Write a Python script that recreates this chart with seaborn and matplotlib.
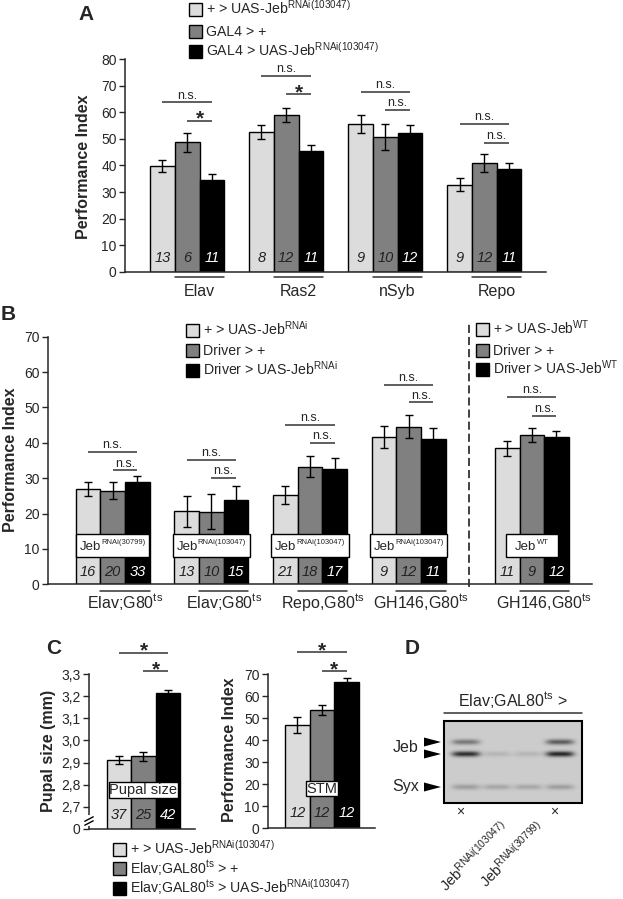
import numpy as np
import pandas as pd
import matplotlib
matplotlib.use('Agg')
import matplotlib.pyplot as plt
from matplotlib.patches import Rectangle
import seaborn as sns

# ---- values ----
genotypes = ['uas', 'driver', 'kd']
bar_colors = ['#dcdcdc', '#808080', '#000000']

# A: GAL4 lines, performance index
a_groups = ['Elav', 'Ras2', 'nSyb', 'Repo']
a_uas = [39.8, 52.6, 55.5, 32.8]
a_uas_err = [2.1, 2.5, 3.4, 2.4]
a_driver = [48.7, 59.0, 50.9, 41.1]
a_driver_err = [3.6, 2.5, 4.9, 3.4]
a_kd = [34.4, 45.3, 52.1, 38.7]
a_kd_err = [2.5, 2.4, 3.0, 2.4]
a_n = [[13, 8, 9, 9], [6, 12, 10, 12], [11, 11, 12, 11]]
a_sig_long = ['n.s.', 'n.s.', 'n.s.', 'n.s.']
a_sig_short = ['*', '*', 'n.s.', 'n.s.']
a_sig_long_y = [63.8, 73.8, 67.8, 55.6]
a_sig_short_y = [56.9, 66.8, 60.9, 48.6]
a_legend = ['+ > UAS-Jeb$^{RNAi(103047)}$', 'GAL4 > +',
            'GAL4 > UAS-Jeb$^{RNAi(103047)}$']

# B: adult-specific knockdown / overexpression
b_pos = [0, 1, 2, 3, 4.25]
b_labels = ['Elav;G80$^{ts}$', 'Elav;G80$^{ts}$', 'Repo,G80$^{ts}$',
            'GH146,G80$^{ts}$', 'GH146,G80$^{ts}$']
b_uas = [26.9, 20.7, 25.2, 41.6, 38.4]
b_uas_err = [1.9, 4.4, 2.6, 3.2, 2.2]
b_driver = [26.5, 20.5, 33.3, 44.6, 42.1]
b_driver_err = [2.3, 5.0, 3.0, 3.3, 2.0]
b_kd = [29.0, 23.7, 32.6, 41.1, 41.7]
b_kd_err = [1.6, 4.2, 3.0, 3.0, 1.5]
b_n = [[16, 13, 21, 9, 11], [20, 10, 18, 12, 9], [33, 15, 17, 11, 12]]
b_box_sup = ['RNAi(30799)', 'RNAi(103047)', 'RNAi(103047)', 'RNAi(103047)', 'WT']
b_sig_long_y = [37.4, 35.2, 45.1, 56.4, 52.9]
b_sig_short_y = [32.2, 30.0, 39.9, 51.4, 47.7]
b_legend_rnai = ['+ > UAS-Jeb$^{RNAi}$', 'Driver > +', 'Driver > UAS-Jeb$^{RNAi}$']
b_legend_wt = ['+ > UAS-Jeb$^{WT}$', 'Driver > +', 'Driver > UAS-Jeb$^{WT}$']

# C: pupal size and STM
c_size = [2.912, 2.928, 3.213]
c_size_err = [0.019, 0.022, 0.015]
c_size_n = [37, 25, 42]
c_stm = [47.0, 53.8, 66.4]
c_stm_err = [3.6, 2.3, 1.8]
c_stm_n = [12, 12, 12]
c_legend = ['+ > UAS-Jeb$^{RNAi(103047)}$', 'Elav;GAL80$^{ts}$ > +',
            'Elav;GAL80$^{ts}$ > UAS-Jeb$^{RNAi(103047)}$']

# D: western blot, band darkness per lane (upper Jeb, lower Jeb, Syx)
lane_x = [466, 497, 528, 560]
band_y = [742, 754, 787]
band_dark = [[0.45, 0.85, 0.25], [0.0, 0.12, 0.2], [0.0, 0.12, 0.2], [0.6, 0.9, 0.25]]
lane_names = ['Jeb$^{RNAi(103047)}$', 'Jeb$^{RNAi(30799)}$']

# ---- style ----
sns.set_style('ticks')
plt.rcParams['font.family'] = ['Liberation Sans', 'DejaVu Sans']
plt.rcParams['mathtext.fontset'] = 'custom'
plt.rcParams['mathtext.rm'] = 'Liberation Sans'
plt.rcParams['mathtext.it'] = 'Liberation Sans:italic'
plt.rcParams['mathtext.bf'] = 'Liberation Sans:bold'
plt.rcParams['mathtext.default'] = 'regular'

W, H = 623, 899
fig = plt.figure(figsize=(W / 100, H / 100), dpi=100)
renderer = fig.canvas.get_renderer()
offsets = [-0.25, 0, 0.25]
line_col = '#333333'


def px_axes(x0, y0, x1, y1):
    return fig.add_axes([x0 / W, 1 - y1 / H, (x1 - x0) / W, (y1 - y0) / H])


def text_width(s, fs):
    t = fig.text(0, 0, s, fontsize=fs)
    w = t.get_window_extent(renderer=renderer).width
    t.remove()
    return w


def bar_table(groups, series):
    rows = []
    for g_name, vals in zip(genotypes, series):
        for grp, v in zip(groups, vals):
            rows.append({'group': grp, 'genotype': g_name, 'value': v})
    return pd.DataFrame(rows)


def draw_bars(ax, table, native=False):
    sns.barplot(data=table, x='group', y='value', hue='genotype', hue_order=genotypes,
                palette=dict(zip(genotypes, bar_colors)), saturation=1, width=0.75, gap=0,
                errorbar=None, edgecolor='black', linewidth=1, legend=False,
                native_scale=native, ax=ax)
    sns.despine(ax=ax)
    ax.set_xlabel('')
    ax.set_ylabel('')
    ax.set_xticks([])
    ax.tick_params(axis='y', length=4, width=1, labelsize=10, pad=2)
    for s in ['left', 'bottom']:
        ax.spines[s].set_linewidth(1.1)


def draw_err(ax, pos, vals, errs):
    for off, v, e in zip(offsets, vals, errs):
        ax.errorbar(np.asarray(pos, float) + off, v, yerr=e, fmt='none', ecolor='black',
                    elinewidth=1, capsize=2.8, capthick=1, zorder=4)


def draw_n(ax, pos, counts, y):
    for off, cnt, col in zip(offsets, counts, ['#222222', '#222222', 'white']):
        for p, c in zip(pos, cnt):
            ax.text(p + off, y, str(c), ha='center', va='center', fontsize=10.5,
                    style='italic', color=col, zorder=5)


def sig_line(ax, x0, x1, y, label):
    ax.plot([x0, x1], [y, y], color=line_col, lw=1.1, clip_on=False, solid_capstyle='butt')
    if label == '*':
        ax.annotate('*', ((x0 + x1) / 2, y), xytext=(0, -2.8), textcoords='offset points',
                    ha='center', va='baseline', fontsize=15, fontweight='bold',
                    annotation_clip=False)
    else:
        ax.annotate(label, ((x0 + x1) / 2, y), xytext=(0, 2.7), textcoords='offset points',
                    ha='center', va='baseline', fontsize=9, annotation_clip=False)


def group_labels(ax, pos, labels, y_line, y_text):
    for p, lab in zip(pos, labels):
        ax.plot([p - 0.125, p + 0.375], [y_line, y_line], color=line_col, lw=1.1,
                clip_on=False)
        ax.text(p + 0.125, y_text, lab, ha='center', va='baseline', fontsize=11.5)


def box_label(ax, x, y0, y1, w, text, fs=10.5):
    ax.add_patch(Rectangle((x - w / 2, y0), w, y1 - y0, facecolor='white',
                           edgecolor='black', lw=1, zorder=6))
    ax.text(x, (y0 + y1) / 2, text, ha='center', va='center', fontsize=fs, zorder=7)


def sup_box(ax, x, y0, y1, base, sup, fs=9.5, sup_fs=5.5, pad=4, min_w=52):
    # white box with "Jeb" and a small superscript, sized to the text
    w1 = text_width(base, fs)
    w2 = text_width(sup, sup_fs)
    px_per_unit = ax.transData.transform((1, 0))[0] - ax.transData.transform((0, 0))[0]
    w = max(w1 + w2 + 2 * pad, min_w) / px_per_unit
    ax.add_patch(Rectangle((x - w / 2, y0), w, y1 - y0, facecolor='white',
                           edgecolor='black', lw=1, zorder=6))
    start = -(w1 + w2) / 2 * 0.72
    base_off = -0.358 * fs
    ax.annotate(base, (x, (y0 + y1) / 2), xytext=(start, base_off), textcoords='offset points',
                ha='left', va='baseline', fontsize=fs, zorder=7)
    ax.annotate(sup, (x, (y0 + y1) / 2), xytext=(start + w1 * 0.72, base_off + 0.45 * fs),
                textcoords='offset points', ha='left', va='baseline', fontsize=sup_fs, zorder=7)


# ---- panel A ----
ax_a = px_axes(125, 59.3, 546, 271.7)
draw_bars(ax_a, bar_table(a_groups, [a_uas, a_driver, a_kd]))
a_pos = list(range(len(a_groups)))
draw_err(ax_a, a_pos, [a_uas, a_driver, a_kd], [a_uas_err, a_driver_err, a_kd_err])
draw_n(ax_a, a_pos, a_n, 5.0)
for p, lab_l, lab_s, yl, ys in zip(a_pos, a_sig_long, a_sig_short, a_sig_long_y, a_sig_short_y):
    sig_line(ax_a, p - 0.25, p + 0.25, yl, lab_l)
    sig_line(ax_a, p, p + 0.25, ys, lab_s)
group_labels(ax_a, a_pos, a_groups, -1.9, -9.1)
ax_a.set_xlim(-0.628, 3.623)
ax_a.set_ylim(0, 80)
ax_a.set_yticks(range(0, 81, 10))

# ---- panel B ----
ax_b = px_axes(48, 336.7, 592, 584.3)
draw_bars(ax_b, bar_table(b_pos, [b_uas, b_driver, b_kd]), native=True)
ax_b.set_xlim(-0.656, 4.86)
ax_b.set_ylim(0, 70)
ax_b.set_yticks(range(0, 71, 10))
draw_err(ax_b, b_pos, [b_uas, b_driver, b_kd], [b_uas_err, b_driver_err, b_kd_err])
draw_n(ax_b, b_pos, b_n, 3.5)
for p, sup, yl, ys in zip(b_pos, b_box_sup, b_sig_long_y, b_sig_short_y):
    sup_box(ax_b, p, 7.7, 14.2, 'Jeb', sup)
    sig_line(ax_b, p - 0.25, p + 0.25, yl, 'n.s.')
    sig_line(ax_b, p, p + 0.25, ys, 'n.s.')
group_labels(ax_b, b_pos, b_labels, -1.9, -6.7)
ax_b.axvline(3.61, ymin=-0.012, ymax=1.06, ls=(0, (4.5, 2.2)), color=line_col, lw=1.3,
             clip_on=False)

# ---- panel C, pupal size (broken axis) ----
ax_c1 = px_axes(89, 674, 195, 829)
draw_bars(ax_c1, bar_table(['C'], [[v] for v in c_size]))
draw_err(ax_c1, [0], [[v] for v in c_size], [[e] for e in c_size_err])
draw_n(ax_c1, [0], [[n] for n in c_size_n], 2.665)
box_label(ax_c1, 0, 2.741, 2.813, 0.71, 'Pupal size')
sig_line(ax_c1, -0.25, 0.25, 3.396, '*')
sig_line(ax_c1, 0, 0.25, 3.312, '*')
ax_c1.set_xlim(-0.556, 0.526)
ax_c1.set_ylim(2.6, 3.3)
c_ticks = [2.6, 2.7, 2.8, 2.9, 3.0, 3.1, 3.2, 3.3]
ax_c1.set_yticks(c_ticks)
ax_c1.set_yticklabels(['0'] + [f'{t:.1f}'.replace('.', ',') for t in c_ticks[1:]])
yt = ax_c1.get_yaxis_transform()
ax_c1.plot([0, 0], [2.622, 2.652], color='white', lw=3, transform=yt, clip_on=False, zorder=8)
for y0 in [2.617, 2.635]:
    ax_c1.plot([-0.04, 0.04], [y0, y0 + 0.02], color='black', lw=1, transform=yt,
               clip_on=False, zorder=9)

# ---- panel C, STM ----
ax_c2 = px_axes(268, 674, 375, 828)
draw_bars(ax_c2, bar_table(['C'], [[v] for v in c_stm]))
draw_err(ax_c2, [0], [[v] for v in c_stm], [[e] for e in c_stm_err])
draw_n(ax_c2, [0], [[n] for n in c_stm_n], 6.8)
box_label(ax_c2, 0, 14.4, 21.2, 0.33, 'STM')
sig_line(ax_c2, -0.25, 0.25, 79.8, '*')
sig_line(ax_c2, 0, 0.25, 71.2, '*')
ax_c2.set_xlim(-0.55, 0.54)
ax_c2.set_ylim(0, 70)
ax_c2.set_yticks(range(0, 71, 10))

# ---- overlay in pixel coordinates: legends, labels, blot ----
ov = fig.add_axes([0, 0, 1, 1])
ov.patch.set_visible(False)
ov.axis('off')


def legend_block(x_sq, x_txt, rows_y, labels, fs):
    for yc, lab, col in zip(rows_y, labels, bar_colors):
        ov.add_patch(Rectangle((x_sq, yc - 6.5), 13, 13, facecolor=col, edgecolor='black', lw=1))
        ov.text(x_txt, yc + 5, lab, fontsize=fs, ha='left', va='baseline')


legend_block(189, 206, [9, 31, 51], a_legend, 10.2)
legend_block(186, 203, [330, 350, 370], b_legend_rnai, 10.2)
legend_block(476, 493, [329, 350, 369], b_legend_wt, 10)
legend_block(113, 130, [849, 868, 888], c_legend, 10.2)

for lab, x, y in [('A', 86, 15), ('B', 8, 315), ('C', 54, 649), ('D', 412, 648)]:
    ov.text(x, y, lab, fontsize=15, fontweight='bold', ha='center', va='center')

for lab, x, y in [('Performance Index', 84, 167), ('Performance Index', 11, 460),
                  ('Pupal size (mm)', 48, 751), ('Performance Index', 230, 750)]:
    ov.text(x, y, lab, fontsize=11.5, fontweight='bold', rotation=90, ha='center', va='center')

# blot
yy = np.arange(721, 803) + 0.5
xx = np.arange(444, 582) + 0.5
img = np.full((len(yy), len(xx)), 0.80)
for lx, darks in zip(lane_x, band_dark):
    xprof = np.exp(-((xx - lx) / 14) ** 4)
    for by, d in zip(band_y, darks):
        yprof = np.exp(-((yy - by) / 2.8) ** 2)
        img -= 0.72 * d * np.outer(yprof, xprof)
ov.imshow(img, cmap='gray', vmin=0, vmax=1, extent=(444, 582, 803, 721), aspect='auto',
          interpolation='bilinear')
ov.add_patch(Rectangle((444, 721), 138, 82, facecolor='none', edgecolor='black', lw=1.5))
ov.text(513, 706, 'Elav;GAL80$^{ts}$ >', fontsize=11.5, ha='center', va='baseline')
ov.plot([444, 582], [713, 713], color=line_col, lw=1.1)
ov.text(406, 752, 'Jeb', fontsize=11.5, ha='center', va='baseline')
ov.text(406, 791, 'Syx', fontsize=11.5, ha='center', va='baseline')
for by in band_y:
    ov.fill([424, 441, 424], [by - 4.5, by, by + 4.5], color='black', lw=0)
for lx in [lane_x[0], lane_x[3]]:
    ov.text(lx - 6, 812, '×', fontsize=10, ha='center', va='center')
for lx, lab in zip([499, 535], lane_names):
    ov.text(lx, 818, lab, fontsize=10.5, rotation=45, ha='right', va='top',
            rotation_mode='anchor')

ov.set_xlim(0, W)
ov.set_ylim(H, 0)

fig.savefig('out.png', dpi=100)
